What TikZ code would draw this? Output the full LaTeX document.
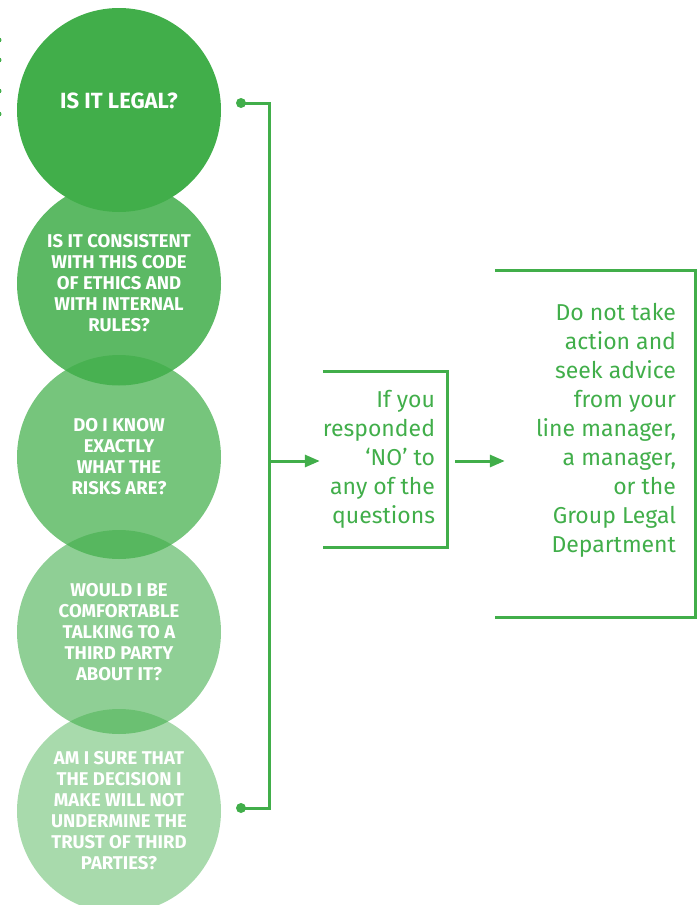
\documentclass[tikz,border=0pt]{standalone}
\usepackage{fontspec}
\setmainfont{Fira Sans}
\usepackage{xcolor}
\usetikzlibrary{positioning,calc,arrows.meta}
\definecolor{legalgreen}{RGB}{65,174,74}

\begin{document}
\begin{tikzpicture}[
    x=1pt, y=-1pt,
    question/.style={circle, fill=legalgreen, text opacity=1, minimum size=204pt, inner sep=0pt, align=center, text=white, font=\fontsize{18.5}{21}\selectfont\bfseries},
    frame/.style={rectangle, inner sep=0pt},
    note/.style={align=right, text=legalgreen, inner sep=0pt, font=\fontsize{23}{29}\selectfont},
    link/.style={draw=legalgreen, line width=3pt},
    arrow/.style={link, -{Triangle[length=15pt,width=12pt]}}
]
\useasboundingbox (0,0) rectangle (698,905);

% the five questions
\node[question, font=\fontsize{22}{26}\selectfont\bfseries] (legal) at (119,110) {IS IT LEGAL?\\[-8pt]};
\node[question, fill opacity=0.86] (consistent) at (119,283.5) {IS IT CONSISTENT\\WITH THIS CODE\\OF ETHICS AND\\WITH INTERNAL\\RULES?};
\node[question, fill opacity=0.72] (risks) at (119,457) {DO I KNOW\\EXACTLY\\WHAT THE\\RISKS ARE?};
\node[question, fill opacity=0.59] (comfortable) at (119,632) {WOULD I BE\\COMFORTABLE\\TALKING TO A\\THIRD PARTY\\ABOUT IT?};
\node[question, fill opacity=0.46] (trust) at (119,811) {AM I SURE THAT\\THE DECISION I\\MAKE WILL NOT\\UNDERMINE THE\\TRUST OF THIRD\\PARTIES?};

% dots cut off at the left edge
\foreach \y in {40,60,91,114}
    \fill[legalgreen] (-1,\y) circle (2.5pt);

% the two open boxes
\node[frame, minimum width=124pt, minimum height=175pt] (ifno) at (385,459.5) {};
\node[note, anchor=east] (ifnotext) at ([xshift=-12pt]ifno.east) {If you\\responded\\‘NO’ to\\any of the\\questions};
\draw[link] (ifno.north west) -- (ifno.north east) -- (ifno.south east) -- (ifno.south west);

\node[frame, minimum width=200pt, minimum height=346pt] (advice) at (595,444) {};
\node[note, anchor=east] (advicetext) at ([xshift=-19pt, yshift=14pt]advice.east) {Do not take\\action and\\seek advice\\from your\\line manager,\\a manager,\\or the\\Group Legal\\Department};
\draw[link] (advice.north west) -- (advice.north east) -- (advice.south east) -- (advice.south west);

% bracket and arrows
\coordinate (dottop) at (241,103);
\coordinate (dotbot) at (241,808);
\coordinate (split) at (269,461);
\fill[legalgreen] (dottop) circle (5pt) (dotbot) circle (5pt);
\draw[link] (dottop) -- ++(28,0) |- (dotbot);
\draw[arrow, shorten >=3pt] (split) -- (split -| ifno.west);
\draw[arrow, shorten <=8pt, shorten >=-10pt] (split -| ifno.east) -- (split -| advice.west);

\end{tikzpicture}
\end{document}
